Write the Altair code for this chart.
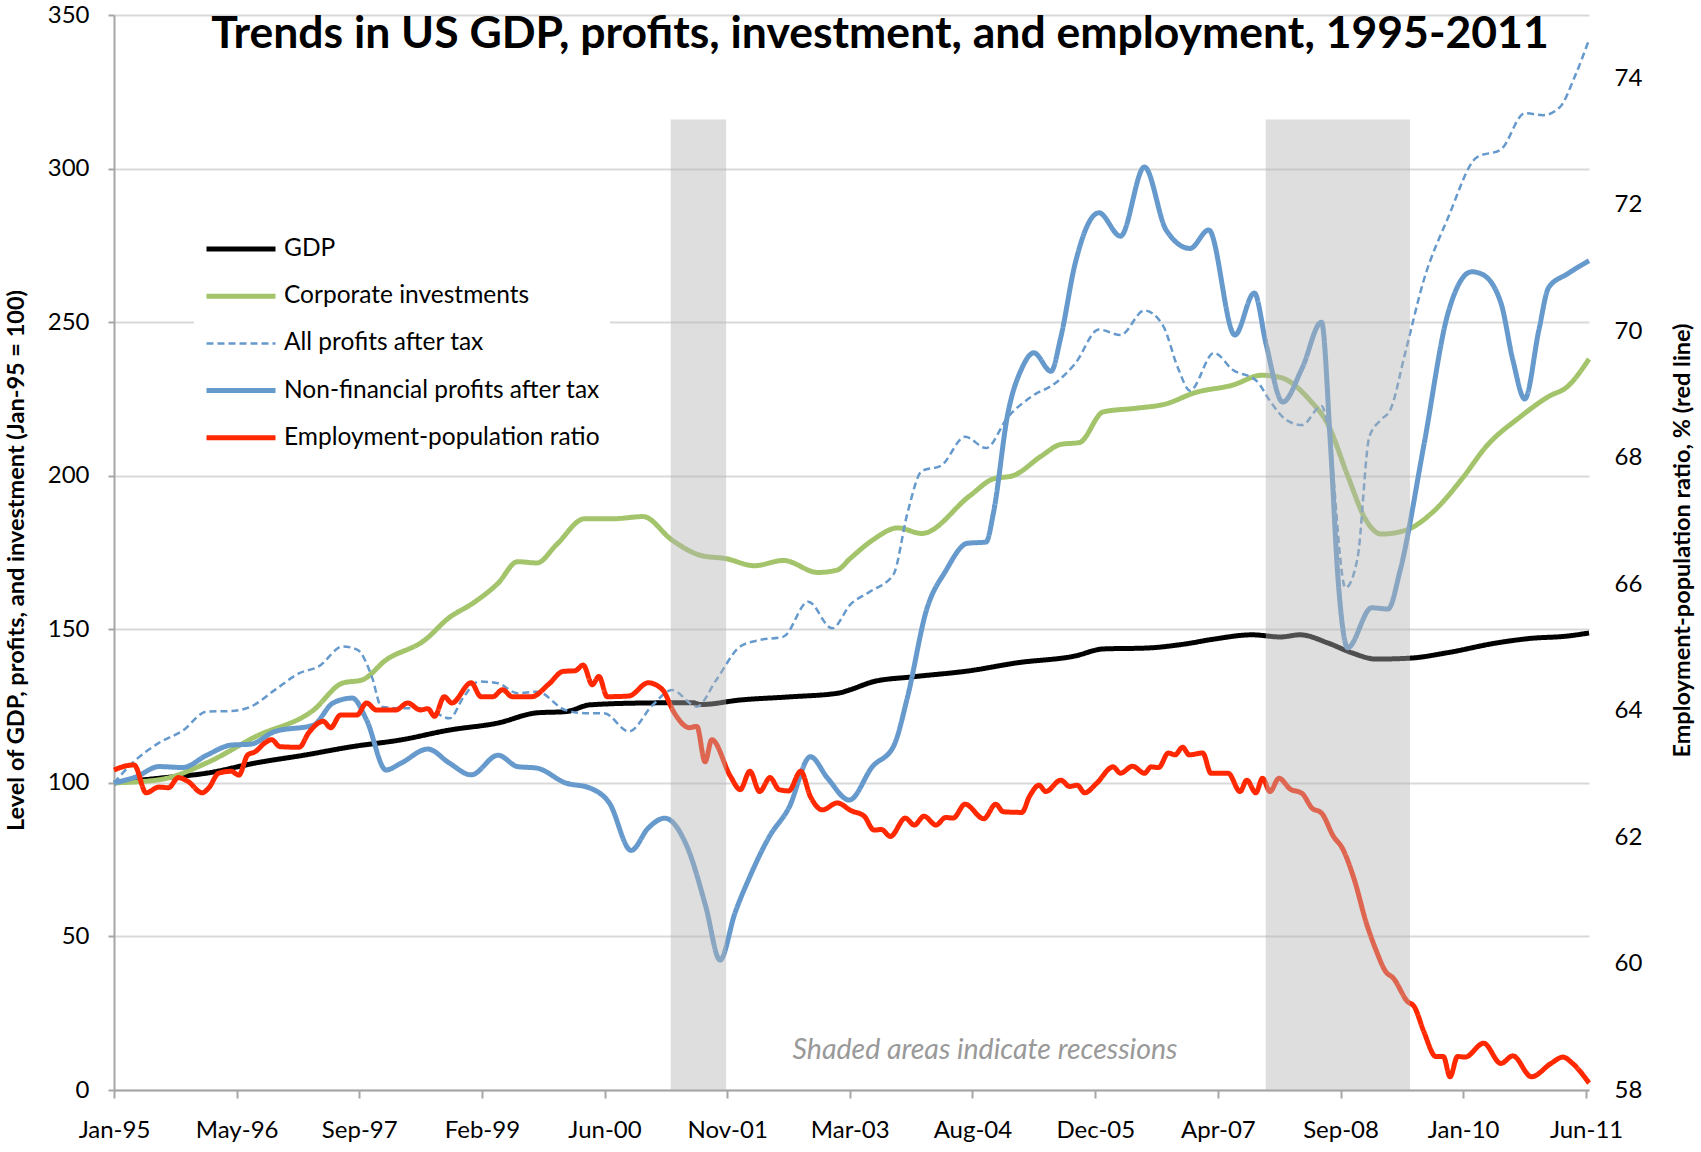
import altair as alt
import pandas as pd

# ---------------- text ----------------
TITLE = "Trends in US GDP, profits, investment, and employment, 1995-2011"
NOTE = "Shaded areas indicate recessions"
LEFT_TITLE = "Level of GDP, profits, and investment (Jan-95 = 100)"
RIGHT_TITLE = "Employment-population ratio, % (red line)"

SERIES = ["GDP", "Corporate investments", "All profits after tax",
          "Non-financial profits after tax", "Employment-population ratio"]
COLORS = ["#000000", "#a3c46a", "#6699cc", "#6699cc", "#ff2800"]
DASHES = [[1, 0], [1, 0], [7, 4], [1, 0], [1, 0]]
WIDTHS = [5, 5, 2.5, 5, 5]

# x tick positions (dates) and axis ranges
XTICKS = ["1995-01-01", "1996-05-15", "1997-09-27", "1999-02-09", "2000-06-23",
          "2001-11-05", "2003-03-20", "2004-08-01", "2005-12-15", "2007-04-29",
          "2008-09-10", "2010-01-23", "2011-06-08"]
X_START = "1995-01-01"
X_END = "2011-06-20"
LEFT_TICKS = [0, 50, 100, 150, 200, 250, 300, 350]
RIGHT_TICKS = [58, 60, 62, 64, 66, 68, 70, 72, 74]

# recessions
REC_START = ["2001-03-20", "2007-11-10"]
REC_END = ["2001-11-01", "2009-06-20"]
REC_TOP = [316, 316]
REC_BOTTOM = [0, 0]

# ---------------- data (months since Jan-95, value) ----------------
gdp_m = [0, 6, 12.5, 19, 25.4, 31.9, 38.4, 44.9, 51.4, 56.6, 60.5, 63.7, 70.9, 77.4,
         78.5, 83.9, 90.4, 96.9, 98.5, 101.7, 106.8, 114.5, 120.9, 128.6, 132.4,
         138.2, 143.3, 147.2, 152.3, 156.1, 158.7, 162.5, 165.7, 168.9, 173.4,
         178.5, 184.9, 189.4, 194.5, 197.4]
gdp_v = [100, 101.5, 103.2, 106.5, 109, 111.8, 114, 117.2, 119.5, 122.8, 123.2, 125.4,
         126, 126.1, 125.5, 127, 128, 129.2, 130.3, 133, 134.5, 136.5, 139.1, 141.3,
         143.6, 143.9, 145.2, 146.8, 148.2, 147.5, 148.2, 145.5, 142.3, 140.3, 140.6,
         142.4, 145.5, 147, 147.8, 148.8]

inv_m = [0, 6, 12.4, 18.9, 26.7, 30.6, 33.2, 36.4, 41.6, 44.8, 48.1, 51.4, 54, 56.6,
         59.2, 63, 66.9, 70.8, 74.7, 78.6, 81.9, 85.7, 89.6, 94.2, 96.8, 98.5, 101.5,
         104.9, 108.1, 114.5, 117.7, 120.3, 124.1, 126.7, 129.2, 132.4, 136.9, 140.8,
         144.6, 149.7, 153.6, 156.1, 160, 162.5, 165.1, 167.6, 169.6, 172.8, 176.6,
         180.4, 183.7, 188.1, 192, 194.5, 197.4]
inv_v = [100, 101, 106.5, 115, 123.7, 132.5, 133.5, 140, 146.5, 153.7, 158.6, 165, 172,
         171.6, 177.5, 186, 186, 186.7, 179, 174, 173, 170.7, 172.4, 168.5, 169.3, 173,
         179, 183, 181.2, 193.4, 199, 200, 206.4, 210.2, 210.8, 220.8, 222, 223.4, 227,
         229.5, 232.7, 232, 224.7, 216.5, 200, 185.3, 181, 182.2, 188.4, 199, 209.7,
         219, 225.8, 229, 238]

all_m = [0, 2.7, 6, 9.2, 12.4, 15.7, 18.3, 21.5, 24.8, 27.4, 30.6, 32.6, 34.5, 35.8,
         38.4, 41.6, 44.9, 46.8, 48.8, 51.4, 54, 56.6, 60.4, 63, 65.6, 68.9, 72.1,
         74.7, 78, 80.6, 83.8, 86.4, 89.6, 92.9, 96.1, 98.6, 101.2, 104.3, 106.2,
         108.1, 110.7, 113.9, 116.7, 119.6, 122.8, 126, 128.6, 131.8, 134.7, 137.9,
         140.4, 142.4, 144, 147.2, 149.7, 152.9, 154.8, 156.8, 159, 161.6, 162.5,
         164.8, 166.4, 168, 169.6, 170.8, 172.8, 175.3, 178.5, 182.4, 185.6, 188.8,
         191.3, 193.5, 195.5, 197.4]
all_v = [100, 107, 113, 117, 123.2, 123.4, 124.8, 130.2, 135.7, 137.9, 144.4, 143.3,
         134.6, 124.8, 124.3, 124.3, 121, 128, 133, 132.4, 129.2, 129.7, 123.7, 122.7,
         122.7, 116.7, 125.4, 130.2, 124.8, 133.5, 144.4, 146.5, 147.6, 159, 150.3,
         158.2, 162.3, 167.8, 188, 201.5, 203.3, 212.7, 209, 219, 225.8, 230.2, 236.4,
         247.6, 245.8, 253.8, 248.8, 235, 227.7, 240, 234.5, 230.9, 224, 218.3, 216.5,
         222.7, 215.2, 163.5, 172.9, 212.7, 218.3, 221.4, 240, 263.8, 283.8, 303.7,
         306.2, 318, 317.4, 320, 330, 342]

nf_m = [0, 3, 6, 9.2, 12.4, 15.7, 18.3, 21.5, 26.7, 29.3, 31.9, 33.8, 36.4, 38.4, 42,
        44.9, 47.8, 51.4, 54, 56.6, 60.4, 63.7, 66.3, 69.2, 71.5, 73.7, 76.7, 79.2,
        81.1, 83.1, 85.1, 87.7, 90.3, 93.2, 95.5, 98.4, 101.5, 104.3, 106.2, 108.7,
        111.3, 114.2, 116.7, 117.7, 119.6, 121.5, 123.1, 125.4, 126.7, 128.6, 131.8,
        134.7, 137.9, 140.8, 144, 146.5, 150, 152.6, 154.2, 156.4, 159, 161.6, 162.8,
        163.8, 165.1, 168.3, 170.5, 172.1, 175.3, 178.5, 181.7, 183, 185.6, 187.2,
        188.8, 190.7, 192, 194.5, 197.4]
nf_v = [100, 102, 105.3, 105, 109, 112.3, 112.6, 116.7, 118.8, 126, 127.6, 120.5, 104.2,
        106.4, 111, 106.4, 102.6, 109, 105.3, 104.8, 100, 98.3, 93.4, 78, 85.3, 88.5,
        79.2, 59.7, 42.3, 57.6, 69.5, 82.5, 91.8, 108.5, 101.5, 94.4, 105.3, 111.8,
        128, 156, 169, 178, 178.4, 188, 220, 235, 240, 234, 245, 268.8, 285.6, 278,
        300.5, 280, 274, 280, 245.8, 259.5, 242.6, 224, 235, 250, 210, 166.7, 144,
        157, 156.6, 169, 210, 252.7, 266.4, 265.7, 256.3, 237.7, 225, 247.6, 261.3,
        265.7, 270]

emp_m = [0, 1.4, 2.7, 4.3, 6, 7.3, 8.6, 9.9, 11.8, 12.7, 14, 15.7, 16.7, 17.9, 18.9,
         20.2, 21.1, 22.2, 24.8, 26, 28, 29, 30.3, 32.5, 33.8, 35.1, 37.7, 39.3, 41,
         42, 42.9, 44.2, 45.2, 47.8, 49.1, 50.7, 52, 53.3, 55.9, 58.2, 60.1, 61.7,
         62.8, 64, 64.9, 66, 68.9, 71.5, 73.4, 75, 77, 78, 79.1, 80, 82.5, 83.8, 85.1,
         86.4, 87.8, 89, 90.3, 91.9, 93.2, 94.8, 96.8, 98.6, 100.4, 101.7, 102.7,
         103.9, 105.9, 107.1, 108.4, 110, 111.3, 112.3, 113.9, 116.4, 118, 119, 121.5,
         122.5, 123.8, 124.7, 126.7, 127.9, 128.9, 129.9, 131.5, 133.7, 134.7, 136.3,
         137.9, 138.8, 139.8, 141.1, 142, 143, 143.9, 145.7, 146.8, 149.1, 150.7,
         151.6, 152.8, 153.7, 154.7, 155.9, 157.4, 159, 160.3, 161.6, 163.2, 164.4,
         166, 167.6, 168.9, 170.2, 171.2, 173.1, 174, 175.3, 176.9, 177.9, 178.8,
         179.8, 180.8, 183.3, 185.6, 187.2, 189.7, 192.3, 193.9, 195.2, 197.4]
emp_v = [63.06, 63.12, 63.14, 62.70, 62.79, 62.78, 62.94, 62.88, 62.70, 62.78, 63.01,
         63.04, 62.98, 63.30, 63.35, 63.49, 63.54, 63.43, 63.42, 63.64, 63.83, 63.73,
         63.93, 63.93, 64.12, 64.01, 64.01, 64.12, 64.01, 64.03, 63.91, 64.22, 64.12,
         64.44, 64.22, 64.22, 64.33, 64.22, 64.22, 64.42, 64.62, 64.63, 64.72, 64.41,
         64.54, 64.22, 64.23, 64.44, 64.33, 63.96, 63.73, 63.75, 63.19, 63.54, 62.96,
         62.75, 63.04, 62.72, 62.94, 62.75, 62.73, 63.04, 62.64, 62.43, 62.54, 62.42,
         62.33, 62.11, 62.12, 62.01, 62.30, 62.19, 62.33, 62.19, 62.31, 62.30, 62.52,
         62.29, 62.52, 62.40, 62.39, 62.64, 62.82, 62.72, 62.90, 62.80, 62.82, 62.70,
         62.85, 63.11, 63.01, 63.12, 63.01, 63.11, 63.10, 63.33, 63.30, 63.42, 63.30,
         63.33, 63.01, 63.01, 62.72, 62.90, 62.70, 62.93, 62.72, 62.93, 62.76, 62.69,
         62.46, 62.38, 62.01, 61.82, 61.32, 60.64, 60.21, 59.87, 59.77, 59.40, 59.32,
         58.92, 58.53, 58.53, 58.21, 58.53, 58.52, 58.74, 58.42, 58.54, 58.21, 58.42,
         58.52, 58.42, 58.11]

# ---------------- build table ----------------
T0 = pd.Timestamp("1995-01-01")
DAYS_PER_MONTH = 6002 / 197.0


def to_date(m):
    return (T0 + pd.Timedelta(days=m * DAYS_PER_MONTH)).strftime("%Y-%m-%dT%H:%M:%S")


rows = []
for name, ms, vs in zip(SERIES, [gdp_m, inv_m, all_m, nf_m, emp_m],
                        [gdp_v, inv_v, all_v, nf_v, emp_v]):
    for m, v in zip(ms, vs):
        rows.append({"series": name, "date": to_date(m), "value": v})
df = pd.DataFrame(rows)

bands_df = pd.DataFrame({"start": [s + "T00:00:00" for s in REC_START],
                         "end": [e + "T00:00:00" for e in REC_END],
                         "top": REC_TOP, "bottom": REC_BOTTOM})


def dt(s):
    y, mo, d = (int(p) for p in s.split("-"))
    return alt.DateTime(year=y, month=mo, date=d)


FONT = "Lato"
AXIS_GRAY = "#a6a6a6"
TICK_FS = 24
AXIS_TITLE_FS = 23.5

x_scale = alt.Scale(domain=[dt(X_START), dt(X_END)])
x_axis = alt.Axis(values=[dt(s) for s in XTICKS], format="%b-%y", title=None,
                  labelFontSize=TICK_FS, labelPadding=20, tickSize=8, tickWidth=2,
                  tickColor=AXIS_GRAY, domainColor=AXIS_GRAY, domainWidth=2,
                  grid=False, labelFlush=False, labelOverlap=False,
                  labelFont=FONT, labelColor="black")
x_enc = alt.X("date:T", scale=x_scale, axis=x_axis)

y_left = alt.Y("value:Q", scale=alt.Scale(domain=[0, 350], nice=False, zero=False),
               axis=alt.Axis(values=LEFT_TICKS, title=LEFT_TITLE, grid=True,
                             gridColor="#d9d9d9", gridWidth=2,
                             domainColor=AXIS_GRAY, domainWidth=2,
                             tickSize=6, tickWidth=2, tickColor=AXIS_GRAY,
                             labelPadding=19, labelFontSize=TICK_FS, labelFont=FONT,
                             labelColor="black", labelOverlap=False,
                             titleFont=FONT, titleFontSize=AXIS_TITLE_FS,
                             titleFontWeight="bold",
                             titleColor="black", titleAngle=270, titleX=-98,
                             titleY=545, titleAlign="center",
                             titleBaseline="middle"))

y_right = alt.Y("value:Q", scale=alt.Scale(domain=[58, 75], nice=False, zero=False),
                axis=alt.Axis(values=RIGHT_TICKS, orient="right", title=RIGHT_TITLE,
                              grid=False, domain=False, ticks=False, tickSize=0,
                              labelPadding=25, labelFontSize=TICK_FS, labelFont=FONT,
                              labelColor="black", labelOverlap=False,
                              titleFont=FONT, titleFontSize=AXIS_TITLE_FS,
                              titleFontWeight="bold", titleColor="black",
                              titleAngle=270, titleX=93, titleY=525,
                              titleAlign="center", titleBaseline="middle"))

legend = alt.Legend(orient="none", legendX=80, legendY=213, title=None,
                    symbolType="stroke", symbolSize=4761, labelFont=FONT,
                    labelFontSize=24.5, labelColor="black", labelOffset=6,
                    rowPadding=22.2, clipHeight=22, fillColor="white", padding=10,
                    direction="vertical", labelLimit=700)

color_enc = alt.Color("series:N", scale=alt.Scale(domain=SERIES, range=COLORS),
                      legend=legend)
dash_enc = alt.StrokeDash("series:N", scale=alt.Scale(domain=SERIES, range=DASHES),
                          legend=legend)
width_enc = alt.StrokeWidth("series:N",
                            scale=alt.Scale(type="ordinal", domain=SERIES, range=WIDTHS),
                            legend=legend)


def line_layer(name, y):
    return (alt.Chart(df)
            .transform_filter(alt.datum.series == name)
            .mark_line(interpolate="monotone", strokeJoin="round")
            .encode(x=x_enc, y=y, color=color_enc, strokeDash=dash_enc,
                    strokeWidth=width_enc))


left = alt.layer(line_layer(SERIES[0], y_left), line_layer(SERIES[1], y_left),
                 line_layer(SERIES[2], y_left), line_layer(SERIES[3], y_left))
red = line_layer(SERIES[4], y_right)

bands = alt.Chart(bands_df).mark_rect(color="#b4b4b4", opacity=0.44).encode(
    x=alt.X("start:T", scale=x_scale, axis=x_axis),
    x2="end:T",
    y=alt.Y("top:Q", scale=alt.Scale(domain=[0, 350], nice=False, zero=False), axis=None),
    y2="bottom:Q",
)

title_layer = alt.Chart(pd.DataFrame({"t": [TITLE]})).mark_text(
    font=FONT, fontSize=44.5, fontWeight="bold", color="black", align="center",
    baseline="alphabetic").encode(text="t:N", x=alt.value(766), y=alt.value(33))

note_layer = alt.Chart(pd.DataFrame({"t": [NOTE]})).mark_text(
    font=FONT, fontSize=28.5, fontStyle="italic", color="#999999", align="center",
    baseline="alphabetic").encode(text="t:N", x=alt.value(871), y=alt.value(1044))

chart = (alt.layer(left, red, bands, title_layer, note_layer)
         .resolve_scale(y="independent")
         .properties(width=1475, height=1075,
                     padding={"left": 114, "top": 15, "right": 112, "bottom": 62},
                     autosize=alt.AutoSizeParams(type="none"),
                     background="white")
         .configure_view(stroke=None))

chart.save("out.html", embed_options={"renderer": "svg", "actions": False})
